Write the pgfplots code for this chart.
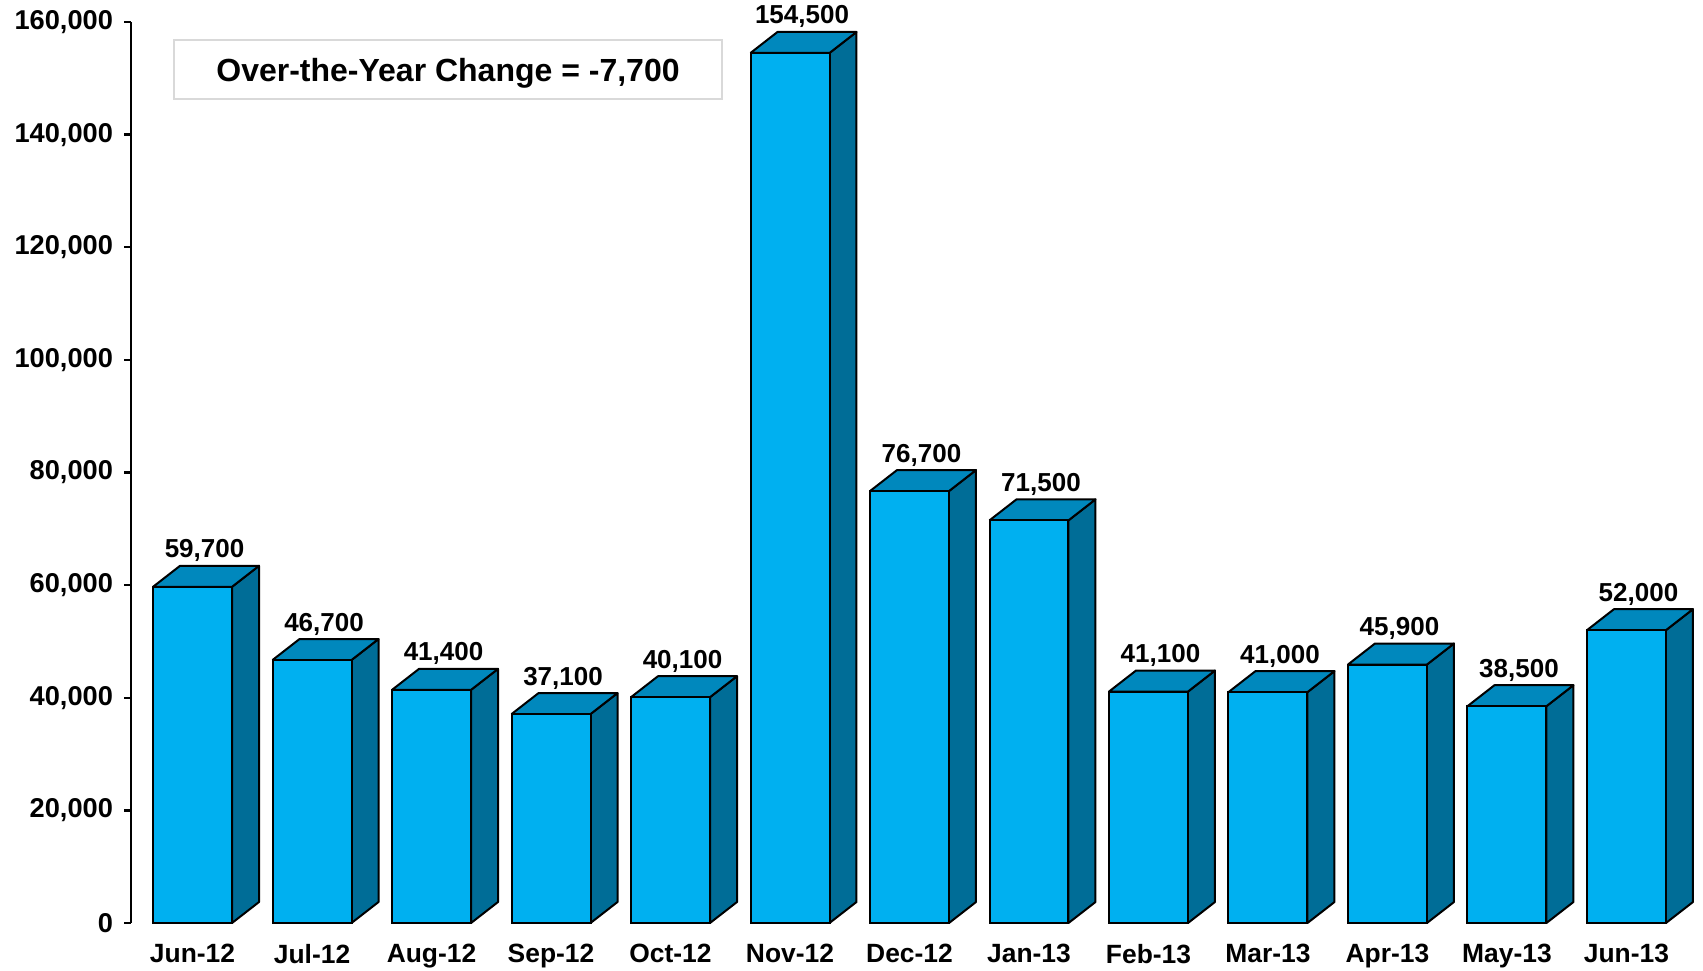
\documentclass[border=0pt]{standalone}
\usepackage{fontspec}
\setmainfont{Liberation Sans}
\usepackage{pgfplots}
\usepackage{pgfplotstable}
\pgfplotsset{compat=1.18}
\definecolor{frontc}{HTML}{00B0F0}
\definecolor{topc}{HTML}{0088BD}
\definecolor{sidec}{HTML}{006D97}
\pgfplotstableread{
x v lab
0 59700 59,700
1 46700 46,700
2 41400 41,400
3 37100 37,100
4 40100 40,100
5 154500 154,500
6 76700 76,700
7 71500 71,500
8 41100 41,100
9 41000 41,000
10 45900 45,900
11 38500 38,500
12 52000 52,000
}\datatable
\begin{document}
\begin{tikzpicture}
\useasboundingbox (-65.5pt,-23.5pt) rectangle (786pt,461.5pt);
\begin{axis}[
  scale only axis,
  width=777.6pt, height=450.5pt,
  xmin=-0.515, xmax=12.5,
  ymin=0, ymax=160000,
  enlargelimits=false,
  clip=false,
  axis lines*=left,
  x axis line style={draw=none},
  y axis line style={-, line width=1.2pt},
  xtick={0,...,12},
  xticklabels={Jun-12,Jul-12,Aug-12,Sep-12,Oct-12,Nov-12,Dec-12,Jan-13,Feb-13,Mar-13,Apr-13,May-13,Jun-13},
  xtick style={draw=none},
  ytick={0,20000,...,160000},
  ytick style={line width=1.2pt, black},
  tick align=outside,
  major tick length=3.5pt,
  scaled y ticks=false,
  /pgf/number format/.cd, 1000 sep={,}, fixed, assume math mode=true,
  /pgfplots/.cd,
  xticklabel style={font=\bfseries\fontsize{13.2}{15}\selectfont, yshift=-3.5pt},
  yticklabel style={font=\bfseries\fontsize{13.6}{16}\selectfont, xshift=-2pt},
]
\pgfplotsinvokeforeach{0,...,12}{
  \pgfplotstablegetelem{#1}{v}\of\datatable
  \edef\vv{\pgfplotsretval}
  \edef\vt{\the\numexpr\pgfplotsretval+3729\relax}
  \pgfmathsetmacro\xa{#1+0.3305}
  \pgfmathsetmacro\xb{#1+0.5564}
  \pgfmathsetmacro\xc{#1-0.3305}
  \pgfmathsetmacro\xd{#1-0.1046}
  \edef\tmp{\noexpand\addplot[fill=sidec, draw=black, line width=1pt, line join=round] coordinates {(\xa,0) (\xb,3729) (\xb,\vt) (\xa,\vv) (\xa,0)};
  \noexpand\addplot[fill=topc, draw=black, line width=1pt, line join=round] coordinates {(\xc,\vv) (\xd,\vt) (\xb,\vt) (\xa,\vv) (\xc,\vv)};}
  \tmp
}
\addplot[ybar, bar width=0.661, fill=frontc, draw=black, line width=1pt,
  point meta=explicit symbolic,
  nodes near coords,
  every node near coord/.append style={anchor=base, font=\bfseries\fontsize{13}{15}\selectfont, xshift=6pt, yshift=14.5pt}]
  table[x=x, y=v, meta=lab]{\datatable};
\node[draw=black!15, fill=white, line width=0.8pt, minimum width=274pt, minimum height=29.5pt, font=\bfseries\fontsize{16}{19}\selectfont] at (axis cs:2.138,151565) {\raisebox{-6.2pt}[0pt][0pt]{Over-the-Year Change = -7,700}};
\end{axis}
\end{tikzpicture}
\end{document}
